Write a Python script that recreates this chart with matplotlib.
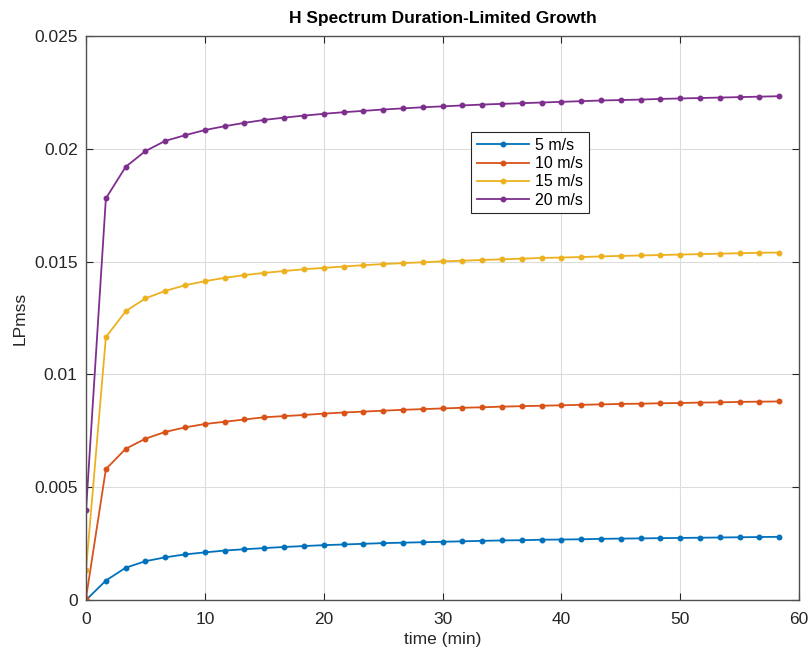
import matplotlib
matplotlib.use('Agg')
import matplotlib.pyplot as plt

# time (min), 100 s steps
time_min = [0.0, 1.667, 3.333, 5.0, 6.667, 8.333, 10.0, 11.667, 13.333, 15.0,
            16.667, 18.333, 20.0, 21.667, 23.333, 25.0, 26.667, 28.333, 30.0, 31.667,
            33.333, 35.0, 36.667, 38.333, 40.0, 41.667, 43.333, 45.0, 46.667, 48.333,
            50.0, 51.667, 53.333, 55.0, 56.667, 58.333]

lp_5 = [0.0, 0.00086, 0.00143, 0.00172, 0.00189, 0.00202, 0.00211, 0.00219, 0.00225, 0.0023,
        0.00235, 0.00239, 0.00243, 0.00246, 0.00249, 0.00252, 0.00254, 0.00256, 0.00258, 0.0026,
        0.00262, 0.00264, 0.00265, 0.00267, 0.00268, 0.00269, 0.00271, 0.00272, 0.00273, 0.00274,
        0.00275, 0.00276, 0.00277, 0.00278, 0.00279, 0.0028]
lp_10 = [0.0001, 0.0058, 0.0067, 0.00715, 0.00745, 0.00765, 0.0078, 0.0079, 0.008, 0.0081,
         0.00815, 0.0082, 0.00826, 0.00831, 0.00835, 0.00839, 0.00843, 0.00846, 0.00849, 0.00852,
         0.00854, 0.00857, 0.00859, 0.00861, 0.00863, 0.00865, 0.00867, 0.00869, 0.0087, 0.00872,
         0.00873, 0.00875, 0.00876, 0.00878, 0.00879, 0.0088]
lp_15 = [0.00135, 0.01165, 0.0128, 0.01337, 0.0137, 0.01395, 0.01413, 0.01428, 0.0144, 0.0145,
         0.01458, 0.01466, 0.01472, 0.01478, 0.01484, 0.01489, 0.01493, 0.01497, 0.01501, 0.01504,
         0.01507, 0.0151, 0.01513, 0.01516, 0.01518, 0.0152, 0.01523, 0.01525, 0.01527, 0.01529,
         0.01531, 0.01533, 0.01535, 0.01537, 0.01539, 0.0154]
lp_20 = [0.004, 0.0178, 0.0192, 0.0199, 0.02035, 0.0206, 0.02083, 0.021, 0.02115, 0.02128,
         0.02138, 0.02147, 0.02155, 0.02162, 0.02168, 0.02174, 0.02179, 0.02184, 0.02188, 0.02192,
         0.02196, 0.02199, 0.02202, 0.02205, 0.02208, 0.02211, 0.02214, 0.02216, 0.02218, 0.02221,
         0.02223, 0.02225, 0.02227, 0.02229, 0.02231, 0.02233]

labels = ['5 m/s', '10 m/s', '15 m/s', '20 m/s']
colors = ['#0072BD', '#D95319', '#EDB120', '#7E2F8E']

plt.rcParams['font.family'] = ['Liberation Sans', 'DejaVu Sans']

fig = plt.figure(figsize=(8.12, 6.54), dpi=100)
ax = fig.add_axes([0.106, 0.0826, 0.878, 0.8624])

for ys, lab, c in zip([lp_5, lp_10, lp_15, lp_20], labels, colors):
    ax.plot(time_min, ys, '-', marker='.', markersize=6.5, color=c, linewidth=1.3, label=lab)

ax.set_xlim(0, 60)
ax.set_ylim(0, 0.025)
ax.set_xticks([0, 10, 20, 30, 40, 50, 60])
ax.set_yticks([0, 0.005, 0.01, 0.015, 0.02, 0.025])
ax.set_yticklabels(['0', '0.005', '0.01', '0.015', '0.02', '0.025'])
ax.grid(True, color='#dcdcdc', linewidth=0.8)
ax.set_axisbelow(True)
ax.tick_params(direction='in', top=True, right=True, length=5, labelsize=12.5,
               colors='#262626', width=0.8)
ax.tick_params(axis='x', pad=9)
ax.tick_params(axis='y', pad=6)
for s in ax.spines.values():
    s.set_color('#505050')
    s.set_linewidth(1.0)

ax.set_xlabel('time (min)', fontsize=12.5, color='#262626', labelpad=3)
ax.set_ylabel('LPmss', fontsize=12.5, color='#262626', labelpad=5)
ax.set_title('H Spectrum Duration-Limited Growth', fontsize=12.5, fontweight='bold',
             color='#000000', pad=9)

leg = ax.legend(loc='upper left', bbox_to_anchor=(0.54, 0.829), fontsize=11.5,
                fancybox=False, framealpha=1, edgecolor='#262626', borderpad=0.35,
                labelspacing=0.2, handlelength=3.3, handletextpad=0.35, borderaxespad=0)
leg.get_frame().set_linewidth(0.8)

fig.savefig('out.png', dpi=100)
